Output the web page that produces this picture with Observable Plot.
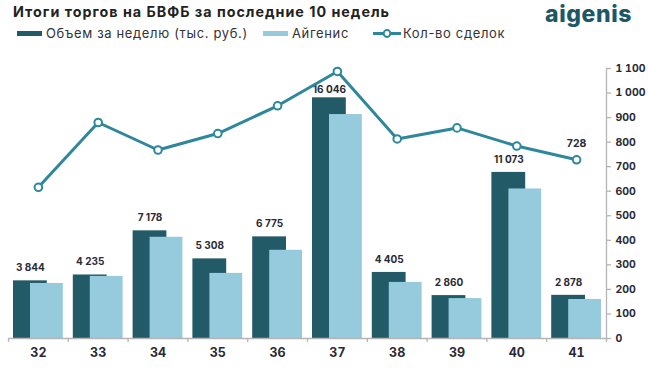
<!DOCTYPE html>
<html>
<head>
<meta charset="utf-8">
<script src="https://cdn.jsdelivr.net/npm/d3@7"></script>
<script src="https://cdn.jsdelivr.net/npm/@observablehq/plot@0.6"></script>
<style>
  html, body { margin: 0; padding: 0; background: #fff; }
  #wrap { position: relative; width: 648px; height: 369px; overflow: hidden; font-family: Inter, "Open Sans", sans-serif; }
  #title { position: absolute; left: 13px; top: 2px; font-size: 14.3px; font-weight: 700; color: #222; line-height: 20px; white-space: nowrap; letter-spacing: 1px; }
  #logo { position: absolute; left: 545px; top: 1px; font-size: 23px; font-weight: 800; color: #1c5868; line-height: 26px; letter-spacing: 0.6px; }
  .leg { position: absolute; top: 25px; height: 16px; font-size: 13px; color: #333; line-height: 16px; white-space: nowrap; letter-spacing: 0.65px; }
  .leg .sw { position: absolute; top: 6px; height: 5px; width: 25px; }
  .leg .lbl { position: absolute; top: 0; }
  #chart { position: absolute; left: 0; top: 50px; width: 648px; height: 319px; }
  #chart svg { position: absolute; left: 0; top: 0; }
</style>
</head>
<body>
<div id="wrap">
  <div id="title"></div>
  <div id="logo">aigenis</div>
  <div id="legend"></div>
  <div id="chart"></div>
</div>
<script>
const titleText = "Итоги торгов на БВФБ за последние 10 недель";
const seriesNames = ["Объем за неделю (тыс. руб.)", "Айгенис", "Кол-во сделок"];
const weeks = [32, 33, 34, 35, 36, 37, 38, 39, 40, 41];
const volume = [3844, 4235, 7178, 5308, 6775, 16046, 4405, 2860, 11073, 2878];
const aigenis = [3670, 4140, 6750, 4340, 5880, 14930, 3740, 2660, 9970, 2600];
const deals = [616, 880, 768, 835, 948, 1088, 813, 858, 784, 728];
const countTicks = [0, 100, 200, 300, 400, 500, 600, 700, 800, 900, 1000, 1100];
const volumeMax = 18000;
const labelledDealWeek = 41;

const DARK = "#225a68", LIGHT = "#95cbdc", LINE = "#2e879a", TEXT = "#2a2a35", GRID = "#b5b5b5";

const locale = d3.formatLocale({decimal: ",", thousands: "\u00a0", grouping: [3], currency: ["", ""]});
const fmt = locale.format(",d");

document.getElementById("title").textContent = titleText;

// legend
const legend = document.getElementById("legend");
const legItems = [
  {left: 17, name: seriesNames[0], kind: "bar", color: DARK, textLeft: 29},
  {left: 263, name: seriesNames[1], kind: "bar", color: LIGHT, textLeft: 29},
  {left: 373, name: seriesNames[2], kind: "line", color: LINE, textLeft: 30}
];
for (const it of legItems) {
  const d = document.createElement("div");
  d.className = "leg";
  d.style.left = it.left + "px";
  if (it.kind === "bar") {
    d.innerHTML = `<div class="sw" style="background:${it.color}"></div><div class="lbl" style="left:${it.textLeft}px">${it.name}</div>`;
  } else {
    d.innerHTML = `<svg width="28" height="16" style="position:absolute;left:0;top:0"><line x1="0" x2="28" y1="8.5" y2="8.5" stroke="${it.color}" stroke-width="3"/><circle cx="14" cy="8.5" r="3.4" fill="#fff" stroke="${it.color}" stroke-width="2"/></svg><div class="lbl" style="left:${it.textLeft}px">${it.name}</div>`;
  }
  legend.appendChild(d);
}

const rows = weeks.map((w, i) => ({week: w, volume: volume[i], aigenis: aigenis[i], deals: deals[i]}));
const boundaries = [...weeks.map(w => w - 0.5), weeks[weeks.length - 1] + 0.5];
const maxVolume = d3.max(volume);

const common = {
  width: 648, height: 319,
  marginLeft: 8, marginRight: 42, marginTop: 18, marginBottom: 31,
  style: {fontFamily: "Inter, 'Open Sans', sans-serif", background: "transparent", overflow: "visible"},
  x: {type: "linear", domain: [boundaries[0], boundaries[boundaries.length - 1]]}
};

const labelStyle = {x: "week", y: "volume", text: d => fmt(d.volume), dx: -8, fontSize: 10, fontWeight: 700, fill: TEXT, letterSpacing: -0.3};

const barPlot = Plot.plot({
  ...common,
  y: {domain: [0, volumeMax], axis: null},
  marks: [
    Plot.rectY(rows, {x1: d => d.week - 0.5, x2: d => d.week + 0.5, y: "volume", fill: DARK, insetLeft: 5, insetRight: 21}),
    Plot.rectY(rows, {x1: d => d.week - 0.5, x2: d => d.week + 0.5, y: "aigenis", fill: LIGHT, insetLeft: 22, insetRight: 5}),
    Plot.ruleY([0], {stroke: GRID, strokeWidth: 1.3}),
    Plot.axisX(boundaries, {tickSize: 4, tickFormat: () => "", stroke: GRID, strokeWidth: 1.3, label: null}),
    Plot.axisX(weeks, {tickSize: 0, tickPadding: 10, fontSize: 12.5, fontWeight: 700, fill: TEXT, tickFormat: d => String(d), label: null}),
    Plot.text(rows.filter(d => d.volume !== maxVolume), {...labelStyle, dy: -12.7}),
    Plot.text(rows.filter(d => d.volume === maxVolume), {...labelStyle, dy: -8.5})
  ]
});

const linePlot = Plot.plot({
  ...common,
  x: {...common.x, axis: null},
  y: {domain: [0, 1100]},
  marks: [
    Plot.frame({anchor: "right", stroke: GRID, strokeWidth: 1.3}),
    Plot.axisY(countTicks, {anchor: "right", tickSize: 4, tickPadding: 5, tickFormat: fmt, fontSize: 10.5, fontWeight: 700, fill: TEXT, stroke: GRID, strokeWidth: 1.3, label: null}),
    Plot.lineY(rows, {x: "week", y: "deals", stroke: LINE, strokeWidth: 3}),
    Plot.dot(rows, {x: "week", y: "deals", r: 3.8, fill: "#fff", stroke: LINE, strokeWidth: 2}),
    Plot.text(rows.filter(d => d.week === labelledDealWeek), {x: "week", y: "deals", text: d => fmt(d.deals), dy: -16, fontSize: 10.5, fontWeight: 700, fill: TEXT})
  ]
});

const chart = document.getElementById("chart");
chart.appendChild(barPlot);
chart.appendChild(linePlot);
</script>
</body>
</html>
